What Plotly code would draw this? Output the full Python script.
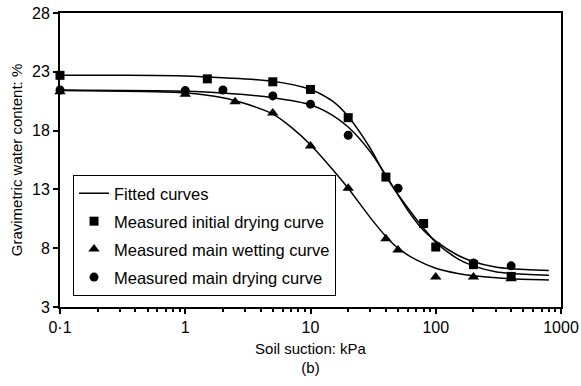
import plotly.graph_objects as go

# Measured data
sq_x = [0.1, 1.5, 5, 10, 20, 40, 80, 100, 200, 400]
sq_y = [22.7, 22.4, 22.15, 21.5, 19.1, 14.05, 10.1, 8.1, 6.6, 5.6]

tri_x = [0.1, 1, 2.5, 5, 10, 20, 40, 50, 100, 200, 400]
tri_y = [21.3, 21.1, 20.45, 19.5, 16.7, 13.1, 8.8, 7.85, 5.55, 5.55, 5.4]

cir_x = [0.1, 1, 2, 5, 10, 20, 50, 200, 400]
cir_y = [21.45, 21.4, 21.45, 20.95, 20.25, 17.6, 13.1, 6.75, 6.5]

# Fitted curves
fit_sq_x = [0.1, 0.3, 1, 2, 5, 10, 15, 20, 30, 40, 60, 80, 100, 150, 200, 300, 400, 800]
fit_sq_y = [22.7, 22.7, 22.65, 22.5, 22.2, 21.5, 20.5, 19.2, 16.5, 14.1, 11.4, 9.7, 8.5, 7.1, 6.5, 6.0, 5.85, 5.7]

fit_cir_x = [0.1, 1, 2, 5, 10, 15, 20, 30, 40, 60, 80, 100, 150, 200, 300, 400, 800]
fit_cir_y = [21.45, 21.35, 21.2, 20.8, 20.2, 19.3, 18.3, 16.2, 14.2, 11.2, 9.5, 8.6, 7.4, 6.85, 6.4, 6.25, 6.1]

fit_tri_x = [0.1, 1, 2, 3, 5, 7, 10, 15, 20, 30, 40, 50, 70, 100, 150, 200, 400, 800]
fit_tri_y = [21.4, 21.2, 20.8, 20.3, 19.4, 18.3, 16.8, 14.7, 13.1, 10.6, 9.0, 8.0, 7.0, 6.3, 5.85, 5.65, 5.4, 5.3]

x_tickvals = [0.1, 1, 10, 100, 1000]
x_ticktext = ["0·1", "1", "10", "100", "1000"]
y_tickvals = [3, 8, 13, 18, 23, 28]

minor_vals = [m * d for d in [0.1, 1, 10, 100] for m in range(2, 10)]

fig = go.Figure()
line_style = dict(color="black", width=1.5, shape="spline", smoothing=0.8)
fig.add_trace(go.Scatter(x=fit_sq_x, y=fit_sq_y, mode="lines", line=line_style,
                         name="Fitted curves", showlegend=True, legendgroup="g1"))
fig.add_trace(go.Scatter(x=fit_cir_x, y=fit_cir_y, mode="lines", line=line_style,
                         showlegend=False, legendgroup="g1"))
fig.add_trace(go.Scatter(x=fit_tri_x, y=fit_tri_y, mode="lines", line=line_style,
                         showlegend=False, legendgroup="g1"))
fig.add_trace(go.Scatter(x=sq_x, y=sq_y, mode="markers", name="Measured initial drying curve",
                         legendgroup="g2",
                         marker=dict(symbol="square", size=9, color="black"), cliponaxis=False))
fig.add_trace(go.Scatter(x=tri_x, y=tri_y, mode="markers", name="Measured main wetting curve",
                         legendgroup="g3",
                         marker=dict(symbol="triangle-up", size=10, color="black"), cliponaxis=False))
fig.add_trace(go.Scatter(x=cir_x, y=cir_y, mode="markers", name="Measured main drying curve",
                         legendgroup="g4",
                         marker=dict(symbol="circle", size=9, color="black"), cliponaxis=False))

font = "Liberation Sans, Arial, sans-serif"
fig.update_layout(
    width=581, height=386,
    margin=dict(l=60, r=20, t=13, b=79, autoexpand=False),
    paper_bgcolor="white", plot_bgcolor="white",
    font=dict(family=font, size=15, color="black"),
    legend=dict(x=0.026, y=0.449, xanchor="left", yanchor="top",
                bordercolor="black", borderwidth=1, bgcolor="white",
                font=dict(size=16.5), itemwidth=30, tracegroupgap=3.5,
                traceorder="grouped"),
)
fig.update_xaxes(type="log", range=[-1, 3], tickvals=x_tickvals, ticktext=x_ticktext,
                 ticks="outside", ticklen=5, tickcolor="black", tickwidth=1.5,
                 showline=True, linecolor="black", linewidth=2, mirror=True,
                 showgrid=False, zeroline=False, automargin=False,
                 tickfont=dict(size=16),
                 minor=dict(tickvals=minor_vals, ticks="outside", ticklen=3,
                            tickcolor="black", showgrid=False),
                 title=dict(text="Soil suction: kPa<br>(b)", font=dict(size=15), standoff=8))
fig.update_yaxes(range=[3, 28], tickvals=y_tickvals,
                 ticks="outside", ticklen=5, tickcolor="black", tickwidth=1.5,
                 showline=True, linecolor="black", linewidth=2, mirror=True,
                 showgrid=False, zeroline=False, automargin=False,
                 tickfont=dict(size=16),
                 title=dict(text="Gravimetric water content: %", font=dict(size=15), standoff=6))

fig.write_html("out.html")
